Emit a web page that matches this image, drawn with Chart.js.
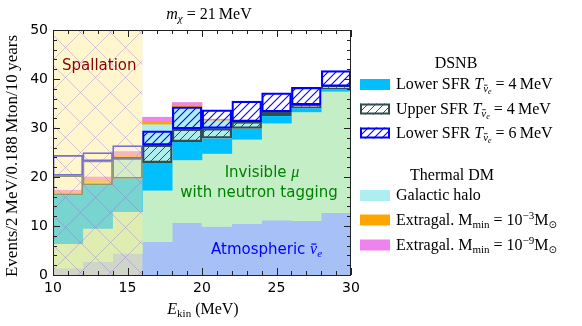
<!DOCTYPE html>
<html><head><meta charset="utf-8">
<script src="https://cdn.jsdelivr.net/npm/chart.js@4"></script>
<style>html,body{margin:0;padding:0;background:#fff}#wrap{width:582px;height:326px}</style>
</head><body><div id="wrap"><canvas id="c" width="582" height="326"></canvas></div>
<script>
// ---- data (events per 2 MeV bin) ----
const binLow = [10, 12, 14, 16, 18, 20, 22, 24, 26, 28];
const binWidth = 2;
const atmospheric   = [1.4, 2.7, 4.4, 6.8, 10.7, 9.9, 10.5, 11.2, 11.1, 12.7];
const invisibleMu   = [5.0, 6.8, 8.5, 10.5, 12.8, 14.9, 17.2, 19.8, 22.2, 24.8];
const dsnbLower4    = [9.9, 8.9, 6.8, 5.6, 3.7, 3.1, 2.2, 1.5, 0.8, 0.5];
const dsnbUpper4Add = [4.0, 4.9, 4.1, 3.6, 2.6, 2.0, 1.4, 0.8, 0.6, 0.5];
const dsnbLower6Add = [4.1, 1.7, 2.6, 2.9, 4.5, 3.8, 4.2, 3.9, 3.6, 3.2];
const galacticHalo  = [0.2, 0.5, 3.9, 7.9, 7.1, 3.7, 1.1, 0.5, 0.2, 0.1];
const extragal3     = [0.4, 0.5, 0.9, 0.7, 0.5, 0.1, 0, 0, 0, 0];
const extragal9     = [0.4, 0.6, 0.7, 0.7, 0.4, 0.1, 0, 0, 0, 0];
const spallationRange = [10, 16];
const xTicks = [10, 15, 20, 25, 30];
const yTicks = [0, 10, 20, 30, 40, 50];

// ---- helpers ----
const add = (a, b) => a.map((v, i) => v + b[i]);
const zeros = binLow.map(() => 0);
const c1 = add(zeros, atmospheric);
const c2 = add(c1, invisibleMu);
const c3 = add(c2, dsnbLower4);
const c4 = add(c3, galacticHalo);
const c5 = add(c4, extragal3);
const c6 = add(c5, extragal9);
const h1 = add(c3, dsnbUpper4Add);
const h2 = add(h1, dsnbLower6Add);
const floating = (lo, hi) => binLow.map((b, i) => ({x: b + binWidth / 2, y: [lo[i], hi[i]]}));

const canvas = document.getElementById('c');
const mainCtx = canvas.getContext('2d');
function hatchPattern(color, size, lw) {
  const p = document.createElement('canvas'); p.width = size; p.height = size;
  const g = p.getContext('2d');
  g.strokeStyle = color; g.lineWidth = lw;
  g.beginPath();
  g.moveTo(-1, size + 1); g.lineTo(size + 1, -1);
  g.moveTo(-size / 2 - 1, size / 2 + 1); g.lineTo(size / 2 + 1, -size / 2 - 1);
  g.moveTo(size / 2 - 1, size * 1.5 + 1); g.lineTo(size * 1.5 + 1, size / 2 - 1);
  g.stroke();
  return mainCtx.createPattern(p, 'repeat');
}
const grayHatch = hatchPattern('#2f4f4f', 8, 1.0);
const blueHatch = hatchPattern('#0000ff', 8, 1.1);
const inSpall = binLow.map(b => b < spallationRange[1]);

const SERIF = "'Liberation Serif', serif";
const SANS = "'DejaVu Sans', sans-serif";

function drawRuns(ctx, x, y, parts, measureOnly) {
  let cx = x;
  for (const p of parts) {
    ctx.font = p.f;
    const w = ctx.measureText(p.t).width;
    if (!measureOnly) {
      ctx.fillStyle = p.c || '#000';
      ctx.fillText(p.t, cx, y + (p.dy || 0));
      if (p.bar) {
        const size = parseFloat(p.f.match(/([\d.]+)px/)[1]);
        ctx.strokeStyle = ctx.fillStyle; ctx.lineWidth = Math.max(0.8, size / 14);
        const by = y + (p.dy || 0) - size * 0.62;
        ctx.beginPath(); ctx.moveTo(cx + w * 0.18, by); ctx.lineTo(cx + w * 0.9, by); ctx.stroke();
      }
    }
    cx += w;
  }
  return cx - x;
}
function drawCentered(ctx, cx, y, parts) {
  const w = drawRuns(ctx, 0, 0, parts, true);
  drawRuns(ctx, cx - w / 2, y, parts);
}

const decor = {
  id: 'decor',
  afterDatasetsDraw(chart) {
    const {ctx, scales: {x, y}} = chart;
    const x0 = x.getPixelForValue(spallationRange[0]), x1 = x.getPixelForValue(spallationRange[1]);
    const yt = y.getPixelForValue(50), yb = y.getPixelForValue(0);
    ctx.save();
    ctx.fillStyle = 'rgba(255,236,150,0.47)';
    ctx.fillRect(x0, yt, x1 - x0, yb - yt);
    ctx.beginPath(); ctx.rect(x0, yt, x1 - x0, yb - yt); ctx.clip();
    ctx.strokeStyle = 'rgba(140,110,210,0.36)'; ctx.lineWidth = 1;
    const H = yb - yt, d = 30;
    ctx.beginPath();
    for (let k = x0 - H - d; k < x1 + H + d; k += d) {
      ctx.moveTo(k, yb); ctx.lineTo(k + H, yt);
      ctx.moveTo(k, yt); ctx.lineTo(k + H, yb);
    }
    ctx.stroke();
    ctx.restore();
  },
  afterDraw(chart) {
    const {ctx, chartArea: a, scales: {x, y}} = chart;
    ctx.save();
    // frame
    ctx.strokeStyle = '#222'; ctx.lineWidth = 1;
    ctx.strokeRect(Math.round(a.left) + 0.5, Math.round(a.top) + 0.5, Math.round(a.right - a.left) - 1, Math.round(a.bottom - a.top));
    // inward ticks
    ctx.beginPath();
    for (let v = 10; v <= 30; v += 1) {
      const px = Math.round(x.getPixelForValue(v)) + 0.5;
      const L = v % 5 === 0 ? 7 : 4;
      ctx.moveTo(px, a.bottom); ctx.lineTo(px, a.bottom - L);
      ctx.moveTo(px, a.top); ctx.lineTo(px, a.top + L);
    }
    for (let v = 0; v <= 50; v += 2) {
      const py = Math.round(y.getPixelForValue(v)) + 0.5;
      const L = v % 10 === 0 ? 7 : 4;
      ctx.moveTo(a.left, py); ctx.lineTo(a.left + L, py);
      ctx.moveTo(a.right, py); ctx.lineTo(a.right - L, py);
    }
    ctx.stroke();

    ctx.textBaseline = 'alphabetic'; ctx.textAlign = 'left';
    // title
    drawCentered(ctx, 209, 19, [
      {t: 'm', f: `italic 16px ${SERIF}`},
      {t: 'χ', f: `italic 11px ${SERIF}`, dy: 3},
      {t: ' = 21\u2009MeV', f: `16px ${SERIF}`}
    ]);
    // x label
    drawCentered(ctx, 203, 314, [
      {t: 'E', f: `italic 16px ${SERIF}`},
      {t: 'kin', f: `11px ${SERIF}`, dy: 3},
      {t: ' (MeV)', f: `16px ${SERIF}`}
    ]);
    // y label
    ctx.save();
    ctx.translate(17, 156);
    ctx.rotate(-Math.PI / 2);
    drawCentered(ctx, 0, 0, [{t: 'Events/2\u2009MeV/0.188\u2009Mton/10\u2009years', f: `17px ${SERIF}`}]);
    ctx.restore();

    // in-plot labels
    ctx.fillStyle = '#8b0000'; ctx.font = `15px ${SANS}`;
    ctx.fillText('Spallation', 62, 70);
    const green = '#008000';
    drawCentered(ctx, 262, 177, [
      {t: 'Invisible ', f: `15px ${SANS}`, c: green},
      {t: 'μ', f: `italic 16px ${SERIF}`, c: green}
    ]);
    drawCentered(ctx, 259, 197, [{t: 'with neutron tagging', f: `15px ${SANS}`, c: green}]);
    drawRuns(ctx, 211, 254, [
      {t: 'Atmospheric ', f: `15px ${SANS}`, c: '#0000ff'},
      {t: 'ν', f: `italic 16px ${SERIF}`, c: '#0000ff', bar: true},
      {t: 'e', f: `italic 11px ${SERIF}`, c: '#0000ff', dy: 3}
    ]);

    // legend
    const lf = `16px ${SERIF}`;
    drawCentered(ctx, 456, 68, [{t: 'DSNB', f: lf}]);
    const T = (n) => [
      {t: 'T', f: `italic 16px ${SERIF}`},
      {t: 'ν', f: `italic 11px ${SERIF}`, dy: 3, bar: true},
      {t: 'e', f: `italic 8px ${SERIF}`, dy: 5},
      {t: ' = ' + n + '\u2009MeV', f: lf}
    ];
    const sw = (yc, fill, border) => {
      ctx.fillStyle = fill; ctx.fillRect(360, yc - 5, 30, 11);
      if (border) { ctx.strokeStyle = border; ctx.lineWidth = 2; ctx.strokeRect(361, yc - 4, 28, 9); }
    };
    sw(84, '#00bfff');
    drawRuns(ctx, 396, 89, [{t: 'Lower SFR ', f: lf}, ...T(4)]);
    ctx.fillStyle = '#fff'; ctx.fillRect(360, 103, 30, 11);
    sw(108.5, grayHatch, '#2f4f4f');
    drawRuns(ctx, 396, 113.5, [{t: 'Upper SFR ', f: lf}, ...T(4)]);
    ctx.fillStyle = '#fff'; ctx.fillRect(360, 127, 30, 11);
    sw(132.5, blueHatch, '#0000ff');
    drawRuns(ctx, 396, 137.5, [{t: 'Lower SFR ', f: lf}, ...T(6)]);

    drawCentered(ctx, 452, 180, [{t: 'Thermal DM', f: lf}]);
    sw(195, '#afeeee');
    drawRuns(ctx, 396, 200, [{t: 'Galactic halo', f: lf}]);
    const M = (e) => [
      {t: 'Extragal. M', f: lf},
      {t: 'min', f: `11px ${SERIF}`, dy: 3},
      {t: ' = 10', f: lf},
      {t: '−' + e, f: `11px ${SERIF}`, dy: -6},
      {t: 'M', f: lf},
      {t: '⊙', f: `10px ${SANS}`, dy: 3}
    ];
    sw(219.5, '#ffa500');
    drawRuns(ctx, 396, 224.5, M(3));
    sw(244.5, '#ee82ee');
    drawRuns(ctx, 396, 249.5, M(9));
    ctx.restore();
  }
};

const fillDs = (label, lo, hi, color, order) => ({
  label, data: floating(lo, hi), backgroundColor: color, borderWidth: 0, order
});

new Chart(canvas, {
  type: 'bar',
  data: {
    datasets: [
      {label: 'Lower SFR T=6 MeV', data: floating(h1, h2), backgroundColor: inSpall.map(s => s ? 'rgba(0,0,0,0)' : blueHatch), borderColor: '#0000ff', borderWidth: inSpall.map(s => s ? 1.1 : 1.6), borderSkipped: false, order: 0},
      {label: 'Upper SFR T=4 MeV', data: floating(c3, h1), backgroundColor: inSpall.map(s => s ? 'rgba(0,0,0,0)' : grayHatch), borderColor: '#2f4f4f', borderWidth: inSpall.map(s => s ? 1.1 : 1.6), borderSkipped: false, order: 1},
      fillDs('Extragal 1e-9', c5, c6, '#ee82ee', 2),
      fillDs('Extragal 1e-3', c4, c5, '#ffa500', 3),
      fillDs('Galactic halo', c3, c4, '#afeeee', 4),
      fillDs('DSNB lower SFR T=4 MeV', c2, c3, '#00bfff', 5),
      fillDs('Invisible mu', c1, c2, '#c4eec6', 6),
      fillDs('Atmospheric', zeros, c1, '#a7c0f5', 7)
    ]
  },
  options: {
    responsive: false, animation: false, devicePixelRatio: 1,
    layout: {padding: {left: 0, top: 30, right: 231, bottom: 0}},
    datasets: {bar: {categoryPercentage: 1, barPercentage: 1}},
    plugins: {legend: {display: false}, tooltip: {enabled: false}, title: {display: false}},
    scales: {
      x: {
        type: 'linear', min: 10, max: 30, offset: false, stacked: true,
        grid: {display: false, drawTicks: false}, border: {display: false},
        afterBuildTicks(s) { s.ticks = xTicks.map(v => ({value: v})); },
        ticks: {font: {family: 'DejaVu Sans', size: 14}, color: '#000', padding: 5, maxRotation: 0, autoSkip: false},
        afterFit(s) { s.height = 51; }
      },
      y: {
        type: 'linear', min: 0, max: 50, stacked: false,
        grid: {display: false, drawTicks: false}, border: {display: false},
        afterBuildTicks(s) { s.ticks = yTicks.map(v => ({value: v})); },
        ticks: {font: {family: 'DejaVu Sans', size: 14}, color: '#000', padding: 5},
        afterFit(s) { s.width = 53; }
      }
    }
  },
  plugins: [decor]
});
</script>
</body></html>
